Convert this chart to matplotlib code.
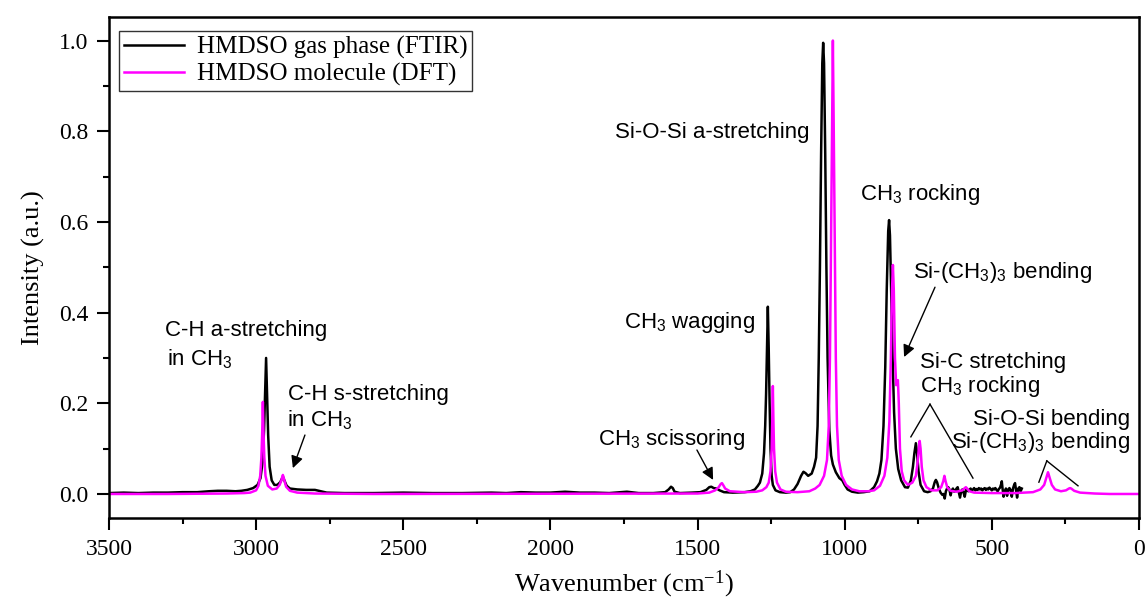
import matplotlib
matplotlib.use("Agg")
import matplotlib.pyplot as plt

plt.rcParams['font.family'] = ['Liberation Serif', 'DejaVu Serif']
plt.rcParams['mathtext.default'] = 'regular'

# FTIR spectrum of HMDSO gas phase (wavenumber, intensity)
ftir_wn = [3500, 3450, 3400, 3350, 3300, 3250, 3200, 3160, 3130, 3100, 3070, 3050,
           3030, 3010, 2995, 2985, 2978, 2973, 2969, 2966, 2963, 2959, 2954, 2947,
           2938, 2928, 2918, 2912, 2908, 2904, 2896, 2885, 2860, 2830, 2800, 2780,
           2760, 2700, 2600, 2500, 2400, 2300, 2200, 2150, 2100, 2050, 2000, 1950,
           1900, 1850, 1800, 1740, 1700, 1650, 1610, 1598, 1590, 1584, 1578, 1560,
           1520, 1490, 1470, 1460, 1453, 1445, 1435, 1425, 1410, 1380, 1340, 1320,
           1305, 1295, 1288, 1280, 1274, 1270, 1267, 1264, 1261, 1258, 1255, 1252,
           1248, 1244, 1235, 1220, 1200, 1185, 1172, 1160, 1148, 1140, 1133, 1124,
           1112, 1104, 1097, 1092, 1088, 1084, 1080, 1076, 1073, 1070, 1066, 1062,
           1058, 1052, 1046, 1040, 1030, 1018, 1008, 1000, 990, 975, 955, 935,
           915, 900, 890, 882, 875, 868, 862, 857, 852, 849, 846, 842,
           837, 832, 826, 818, 808, 795, 785, 775, 768, 763, 758, 754,
           749, 742, 730, 718, 708, 700, 694, 690, 686, 680, 674, 668,
           664, 660, 656, 652, 648, 644, 640, 636, 632, 628, 625, 620,
           616, 612, 608, 604, 600, 596, 592, 588, 584, 580, 576, 572,
           568, 564, 560, 556, 552, 548, 544, 540, 536, 532, 528, 524,
           520, 516, 512, 508, 504, 500, 496, 492, 488, 484, 480, 476,
           472, 468, 466, 464, 460, 456, 452, 448, 444, 440, 436, 432,
           428, 424, 421, 418, 414, 410, 406, 402, 398]
ftir_int = [0.002, 0.003, 0.002, 0.003, 0.003, 0.004, 0.004, 0.006, 0.007, 0.007, 0.006, 0.007,
            0.009, 0.013, 0.02, 0.035, 0.07, 0.14, 0.23, 0.30, 0.23, 0.13, 0.06, 0.03,
            0.02, 0.02, 0.026, 0.034, 0.037, 0.03, 0.018, 0.012, 0.01, 0.009, 0.009, 0.006,
            0.003, 0.002, 0.002, 0.003, 0.002, 0.002, 0.003, 0.002, 0.004, 0.003, 0.003, 0.005,
            0.003, 0.003, 0.002, 0.005, 0.002, 0.002, 0.004, 0.01, 0.016, 0.013, 0.005, 0.002,
            0.003, 0.004, 0.009, 0.015, 0.016, 0.013, 0.012, 0.008, 0.004, 0.003, 0.004, 0.006,
            0.01, 0.018, 0.025, 0.045, 0.09, 0.15, 0.22, 0.32, 0.413, 0.32, 0.2, 0.1,
            0.04, 0.02, 0.008, 0.004, 0.003, 0.004, 0.01, 0.022, 0.04, 0.049, 0.046, 0.04,
            0.045, 0.06, 0.08, 0.15, 0.3, 0.5, 0.75, 0.95, 0.995, 0.95, 0.75, 0.5,
            0.3, 0.14, 0.085, 0.065, 0.048, 0.035, 0.03, 0.02, 0.01, 0.005, 0.003, 0.004,
            0.006, 0.015, 0.028, 0.045, 0.075, 0.15, 0.28, 0.45, 0.58, 0.604, 0.57, 0.45,
            0.3, 0.18, 0.1, 0.055, 0.03, 0.015, 0.014, 0.03, 0.06, 0.09, 0.112, 0.09,
            0.05, 0.02, 0.006, 0.004, 0.006, 0.012, 0.026, 0.031, 0.026, 0.012, 0.003, -0.002,
            0.0, -0.01, 0.006, 0.012, 0.015, 0.01, -0.003, 0.008, 0.012, 0.005, 0.006, 0.012,
            0.015, 0.004, -0.008, 0.006, 0.01, 0.003, -0.006, 0.008, 0.011, 0.006, 0.009, 0.012,
            0.007, 0.01, 0.013, 0.008, 0.011, 0.009, 0.013, 0.01, 0.012, 0.008, 0.011, 0.013,
            0.009, 0.012, 0.01, 0.014, 0.011, 0.008, 0.012, 0.01, 0.013, 0.009, 0.006, 0.011,
            0.014, 0.022, 0.028, 0.015, -0.006, 0.004, 0.012, -0.004, 0.01, 0.013, 0.008, -0.006,
            0.012, 0.02, 0.024, 0.01, -0.008, 0.012, 0.015, 0.006, 0.012]

# DFT spectrum of the HMDSO molecule (wavenumber, intensity)
dft_wn = [3500, 3300, 3100, 3040, 3020, 3000, 2992, 2986, 2982, 2979, 2977, 2975,
          2972, 2968, 2960, 2945, 2930, 2920, 2914, 2911, 2909, 2907, 2904, 2898,
          2885, 2860, 2800, 2600, 1500, 1460, 1440, 1428, 1421, 1417, 1413, 1406,
          1390, 1340, 1300, 1280, 1266, 1258, 1252, 1248, 1246, 1244, 1242, 1240,
          1236, 1230, 1218, 1200, 1160, 1120, 1100, 1085, 1070, 1060, 1054, 1050,
          1047, 1043, 1040, 1037, 1033, 1030, 1026, 1020, 1010, 995, 975, 950,
          920, 900, 880, 865, 855, 848, 843, 839, 836, 833, 829, 825,
          822, 819, 816, 812, 806, 798, 785, 770, 758, 752, 748, 745,
          742, 738, 732, 722, 705, 685, 672, 665, 661, 657, 651, 640,
          620, 600, 592, 588, 584, 576, 560, 500, 420, 360, 335, 322,
          315, 309, 303, 296, 285, 265, 248, 238, 234, 230, 220, 200,
          150, 100, 0]
dft_int = [0.0, 0.0, 0.001, 0.002, 0.003, 0.008, 0.018, 0.04, 0.08, 0.14, 0.203, 0.14,
           0.08, 0.04, 0.018, 0.01, 0.012, 0.02, 0.03, 0.038, 0.042, 0.038, 0.03, 0.016,
           0.007, 0.003, 0.001, 0.0, 0.001, 0.003, 0.008, 0.015, 0.022, 0.024, 0.02, 0.012,
           0.006, 0.004, 0.005, 0.008, 0.015, 0.025, 0.05, 0.1, 0.16, 0.238, 0.16, 0.1,
           0.05, 0.025, 0.01, 0.005, 0.004, 0.006, 0.012, 0.02, 0.04, 0.075, 0.15, 0.3,
           0.5, 0.8, 1.0, 0.8, 0.5, 0.3, 0.15, 0.075, 0.04, 0.02, 0.01, 0.006,
           0.006, 0.008, 0.018, 0.04, 0.08, 0.16, 0.3, 0.45, 0.505, 0.45, 0.3, 0.24,
           0.245, 0.251, 0.2, 0.1, 0.05, 0.03, 0.02, 0.025, 0.04, 0.07, 0.1, 0.117,
           0.1, 0.06, 0.03, 0.015, 0.008, 0.008, 0.015, 0.028, 0.04, 0.028, 0.014, 0.007,
           0.005, 0.008, 0.013, 0.015, 0.012, 0.006, 0.003, 0.002, 0.002, 0.004, 0.01, 0.02,
           0.035, 0.048, 0.035, 0.02, 0.01, 0.006, 0.008, 0.012, 0.013, 0.012, 0.007, 0.003,
           0.001, 0.0, 0.0]

series_labels = ["HMDSO gas phase (FTIR)", "HMDSO molecule (DFT)"]

# band labels: text, x, y (data coords), horizontal alignment
band_labels = [
    ("C-H a-stretching", 3310, 0.348, 'left'),
    ("in CH$_3$", 3303, 0.284, 'left'),
    ("C-H s-stretching", 2892, 0.207, 'left'),
    ("in CH$_3$", 2895, 0.148, 'left'),
    ("CH$_3$ scissoring", 1838, 0.108, 'left'),
    ("CH$_3$ wagging", 1750, 0.366, 'left'),
    ("Si-O-Si a-stretching", 1780, 0.785, 'left'),
    ("CH$_3$ rocking", 948, 0.648, 'left'),
    ("Si-(CH$_3$)$_3$ bending", 768, 0.476, 'left'),
    ("Si-C stretching", 744, 0.278, 'left'),
    ("CH$_3$ rocking", 744, 0.225, 'left'),
    ("Si-O-Si bending", 31, 0.152, 'right'),
    ("Si-(CH$_3$)$_3$ bending", 31, 0.101, 'right'),
]
# arrows: (tail), (head)
arrows = [((2834, 0.130), (2875, 0.057)),
          ((1502, 0.097), (1447, 0.031)),
          ((693, 0.456), (798, 0.302))]
# plain leader lines: apex, end
leaders = [((710, 0.198), (775, 0.126)), ((710, 0.198), (564, 0.035)),
           ((313, 0.073), (340, 0.026)), ((313, 0.073), (207, 0.018))]

fig = plt.figure(figsize=(11.48, 6.06), dpi=100)
ax = fig.add_axes([0.0949, 0.1452, 0.8972, 0.8268])

ax.plot(ftir_wn, ftir_int, color='black', lw=1.8, label=series_labels[0])
ax.plot(dft_wn, dft_int, color='#FF00FF', lw=1.8, label=series_labels[1])

sans = ['Liberation Sans', 'DejaVu Sans']
for txt, x, y, ha in band_labels:
    ax.text(x, y, txt, ha=ha, va='baseline', fontsize=16, family=sans)
for tail, head in arrows:
    ax.annotate('', xy=head, xytext=tail,
                arrowprops=dict(arrowstyle='-|>', color='black', lw=1.0,
                                mutation_scale=18, shrinkA=0, shrinkB=0))
for a, b in leaders:
    ax.plot([a[0], b[0]], [a[1], b[1]], color='black', lw=1.0)

ax.set_xlim(3500, 0)
ax.set_ylim(-0.053, 1.052)
ax.set_xticks([3500, 3000, 2500, 2000, 1500, 1000, 500, 0])
ax.set_xticks([3250, 2750, 2250, 1750, 1250, 750, 250], minor=True)
ax.set_yticks([0.0, 0.2, 0.4, 0.6, 0.8, 1.0])
ax.set_yticks([0.1, 0.3, 0.5, 0.7, 0.9], minor=True)
ax.yaxis.set_major_formatter(matplotlib.ticker.FormatStrFormatter('%.1f'))
ax.tick_params(which='major', direction='out', length=8.5, width=1.5, labelsize=17,
               pad=6.5, labelfontfamily='Liberation Serif')
ax.tick_params(which='minor', direction='out', length=4.5, width=1.5)
for sp in ax.spines.values():
    sp.set_linewidth(1.8)

ax.set_xlabel("Wavenumber (cm$^{-1}$)", fontsize=19, labelpad=6)
ax.set_ylabel("Intensity (a.u.)", fontsize=19, labelpad=10)

leg = ax.legend(loc='upper left', bbox_to_anchor=(0.0098, 0.972), fontsize=18,
                frameon=True, fancybox=False, edgecolor='black', handlelength=2.4,
                handletextpad=0.5, borderpad=0.2, labelspacing=0.15,
                borderaxespad=0)
leg.get_frame().set_linewidth(1.0)

fig.savefig("out.png", dpi=100)
